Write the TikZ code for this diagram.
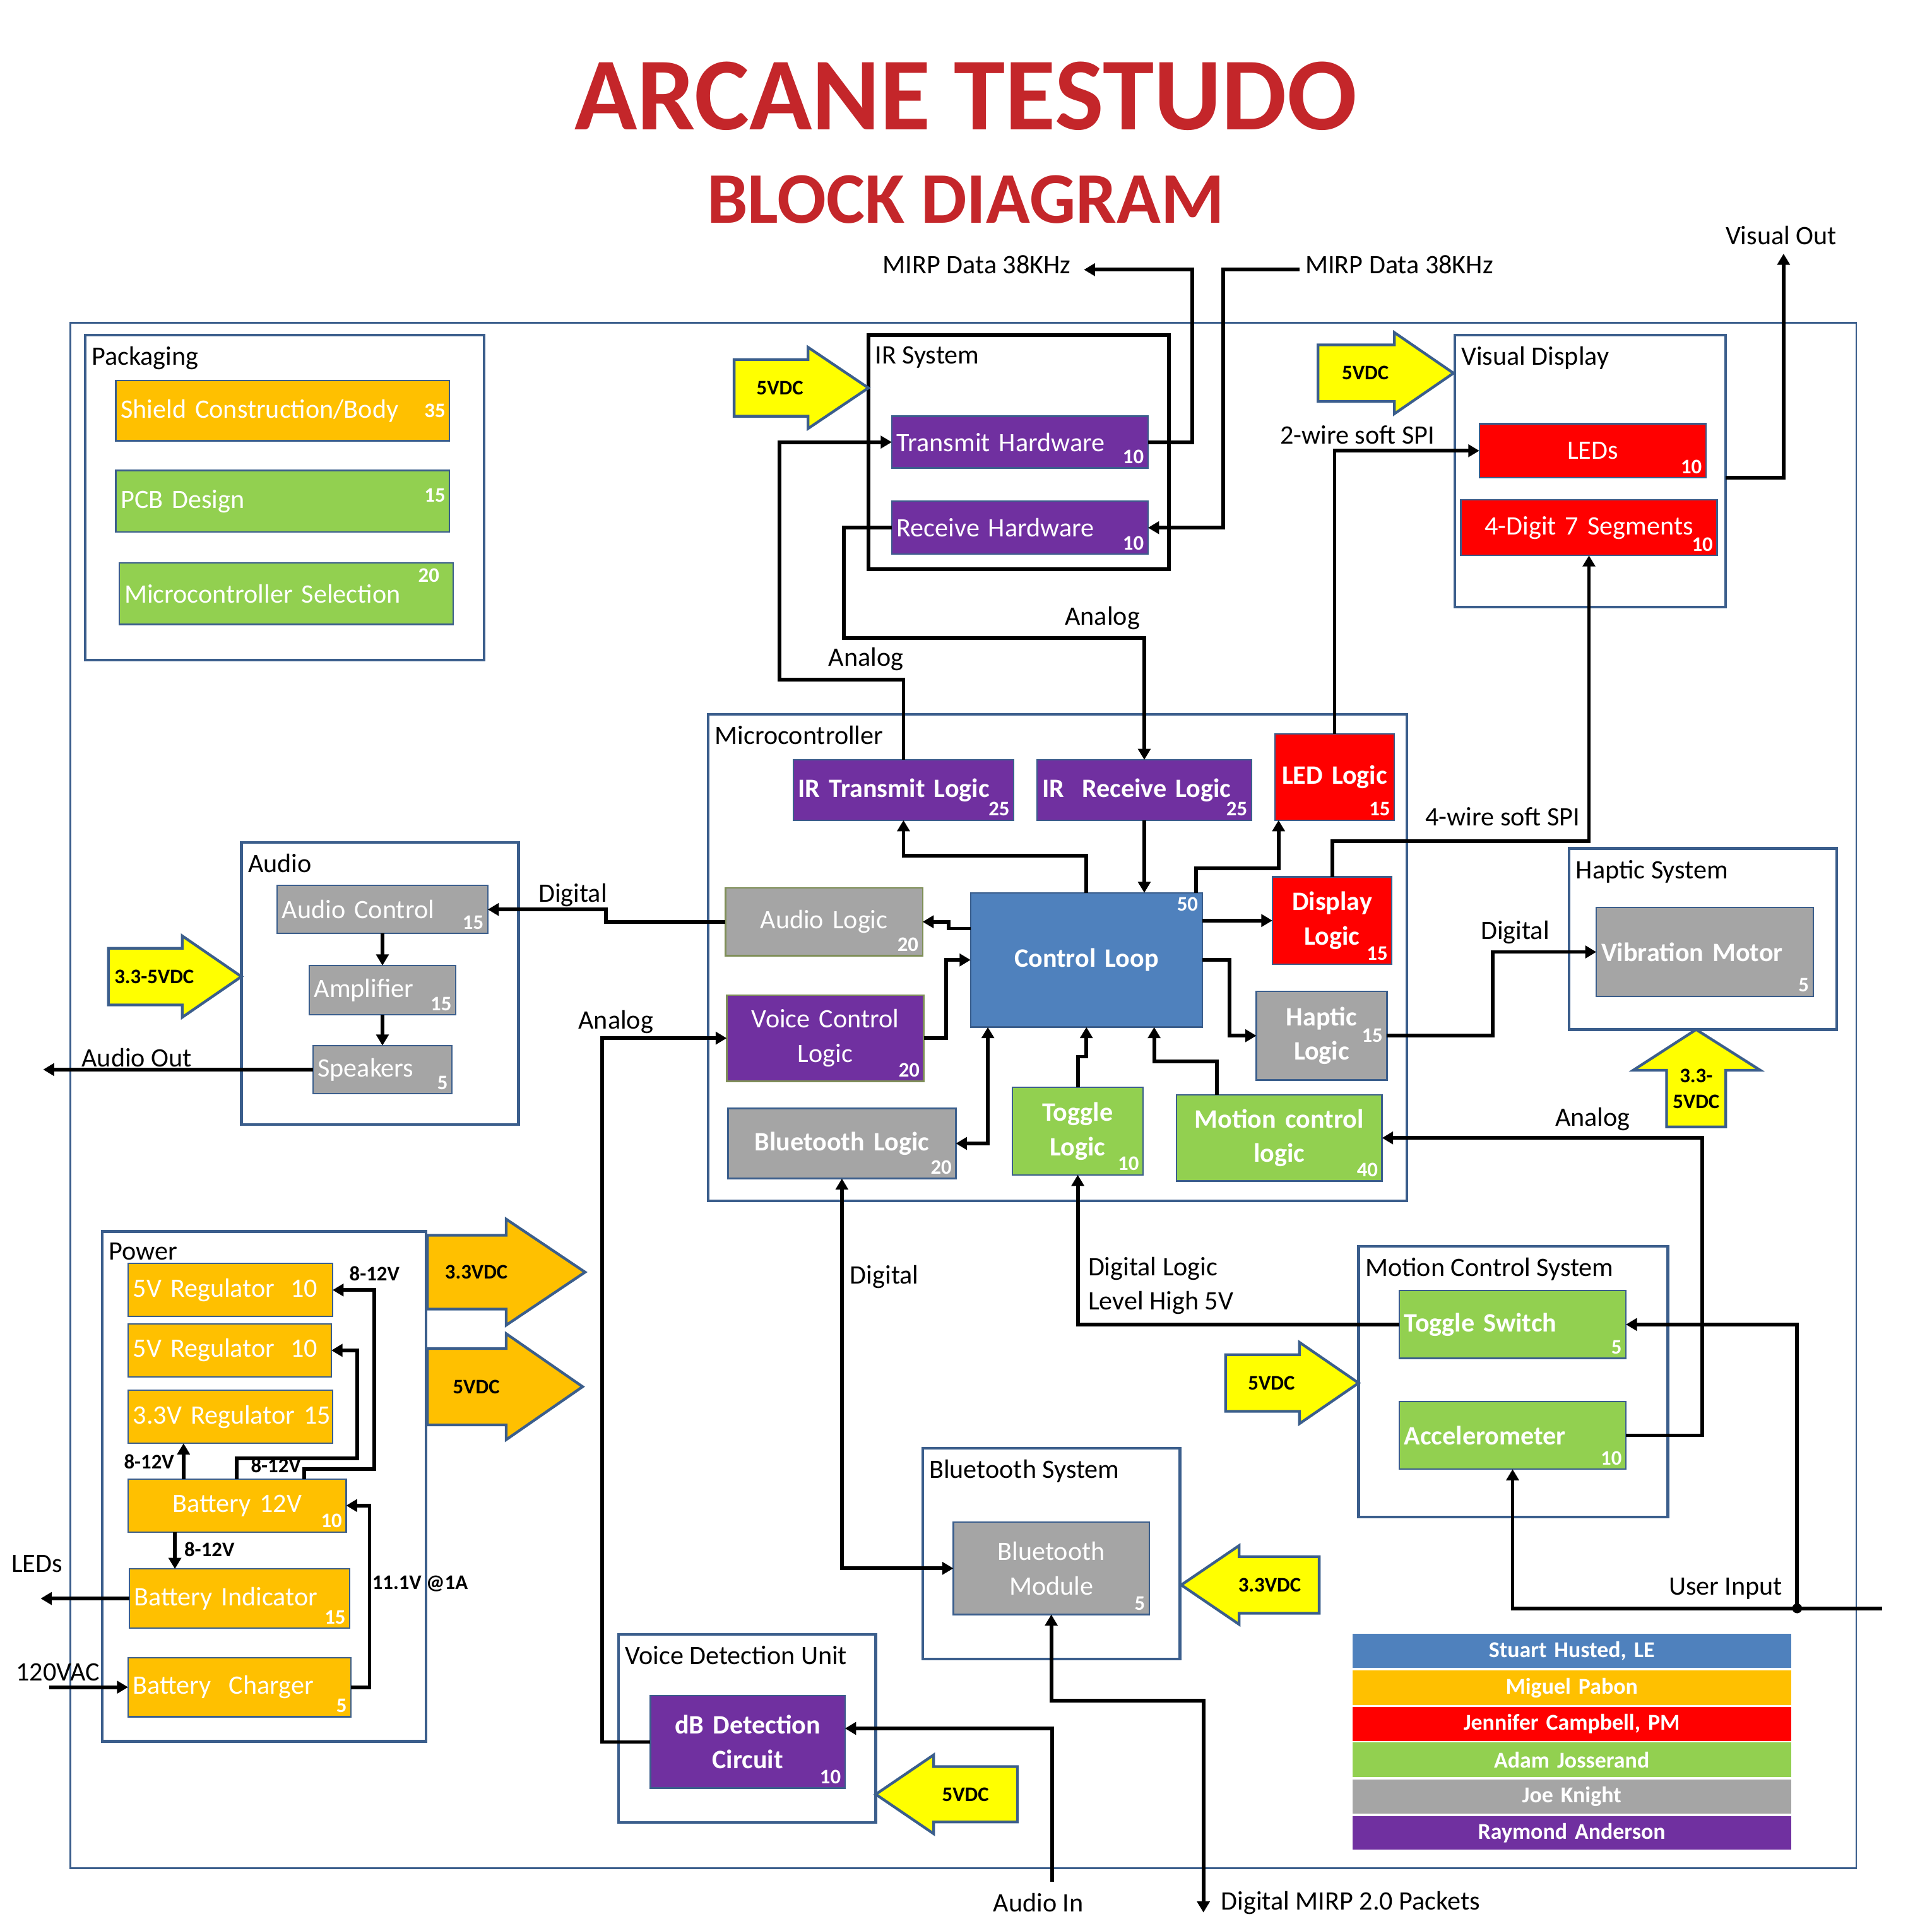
\documentclass[tikz,border=0pt]{standalone}
\usepackage{fontspec}
\setmainfont{Carlito}
\usetikzlibrary{arrows.meta}

\definecolor{frameblue}{HTML}{3B5E8C}
\definecolor{ppurple}{HTML}{7030A0}
\definecolor{pgreen}{HTML}{92D050}
\definecolor{porange}{HTML}{FFC000}
\definecolor{pred}{HTML}{FF0000}
\definecolor{pgray}{HTML}{A5A5A5}
\definecolor{pblue}{HTML}{4F81BD}
\definecolor{pyellow}{HTML}{FFFF00}
\definecolor{titlered}{HTML}{C4262A}
\definecolor{olivebd}{HTML}{7F8F58}

\newcommand\fsz[2]{\fontsize{#1}{#2}\selectfont}

% block: name, x1, y1, x2, y2, options, text
\newcommand\mkblk[7]{%
  \pgfmathsetmacro\blkW{(#4-#2)*0.5}%
  \pgfmathsetmacro\blkH{(#5-#3)*0.5}%
  \pgfmathsetmacro\blkT{(#4-#2)*0.5-4}%
  \pgfmathsetmacro\blkX{(#2+#4)/2}%
  \pgfmathsetmacro\blkY{(#3+#5)/2}%
  \node[blk,#6,minimum width=\blkW pt,minimum height=\blkH pt,text width=\blkT pt] (#1) at (\blkX,\blkY) {#7};}

% subsystem frame: name, x1, y1, x2, y2, options, title
\newcommand\mkgrp[7]{%
  \pgfmathsetmacro\blkW{(#4-#2)*0.5}%
  \pgfmathsetmacro\blkH{(#5-#3)*0.5}%
  \pgfmathsetmacro\blkX{(#2+#4)/2}%
  \pgfmathsetmacro\blkY{(#3+#5)/2}%
  \node[grpbox,#6,minimum width=\blkW pt,minimum height=\blkH pt,label={[grptitle]north west:#7}] (#1) at (\blkX,\blkY) {};}

% supply arrow: name, tail x, head base x, tip x, centre y, half shaft, half head, style, text
\newcommand\mkarrow[9]{%
  \filldraw[#8] (#2,#5-#6) -- (#3,#5-#6) -- (#3,#5-#7) -- (#4,#5) -- (#3,#5+#7) -- (#3,#5+#6) -- (#2,#5+#6) -- cycle;
  \node[pwrtext] (#1) at ({(#2+#3)/2+0.12*(#3-#2)},#5) {#9};}

\begin{document}
\begin{tikzpicture}[x=0.5pt,y=-0.5pt,
  >={Triangle[length=4.5pt,width=5pt]},
  every node/.style={font=\fsz{10.8}{14}},
  grpbox/.style={rectangle,draw=frameblue,line width=1.1pt,inner sep=0pt,outer sep=0pt},
  grptitle/.style={anchor=north west,inner xsep=2.5pt,inner ysep=4.5pt,font=\fsz{10.8}{14},text=black},
  blk/.style={rectangle,draw=frameblue,line width=0.6pt,inner xsep=2pt,inner ysep=0pt,outer sep=0pt,text=white,align=center,font=\fsz{10.8}{14}},
  lft/.style={align=left},
  bfx/.style={font=\fsz{10.8}{14}\bfseries},
  lgd/.style={draw=none,font=\fsz{9.2}{11}\bfseries},
  num/.style={font=\fsz{8.4}{10}\bfseries,text=white,inner sep=1.5pt},
  nb/.style={label={[num,anchor=south east]south east:#1}},
  nt/.style={label={[num,anchor=north east]north east:#1}},
  nr/.style={label={[num,anchor=east]east:#1}},
  wire/.style={line width=1.5pt,->},
  wire2/.style={line width=1.5pt,<->},
  lbl/.style={font=\fsz{10.8}{14},text=black,inner sep=0pt},
  pwrtext/.style={font=\fsz{8.4}{10.5}\bfseries,text=black,inner sep=0pt,align=center},
  yarrow/.style={fill=pyellow,draw=frameblue,line width=1.1pt},
  oarrow/.style={fill=porange,draw=frameblue,line width=1.1pt}]

\fill[white] (0,0) rectangle (1568,1568);
\useasboundingbox (0,0) rectangle (1568,1568);

% ---------- title ----------
\node[font=\fsz{42}{48}\bfseries,text=titlered] (title) at (784,78) {ARCANE TESTUDO};
\node[font=\fsz{29.5}{34}\bfseries,text=titlered] (subtitle) at (784,162) {BLOCK DIAGRAM};

% ---------- outer frame and subsystems ----------
\node[grpbox,line width=0.7pt,minimum width=725pt,minimum height=627.5pt] (frame) at (782,889.5) {};

\mkgrp{pack}{69}{272}{393}{536}{}{Packaging}
\mkgrp{irsys}{705}{272}{949}{462}{draw=black,line width=1.5pt}{IR System}
\mkgrp{vis}{1181}{272}{1401}{493}{}{Visual Display}
\mkgrp{mcu}{575}{580}{1142}{975}{}{Microcontroller}
\mkgrp{audio}{196}{684}{421}{913}{}{Audio}
\mkgrp{hap}{1274}{689}{1491}{836}{}{Haptic System}
\mkgrp{mot}{1103}{1012}{1354}{1232}{}{Motion Control System}
\mkgrp{bts}{749}{1176}{958}{1347}{}{Bluetooth System}
\mkgrp{vdu}{502}{1327}{711}{1480}{}{Voice Detection Unit}
\mkgrp{pwr}{83}{1000}{346}{1414}{}{Power}

% ---------- supply arrows ----------
\mkarrow{pIR}{596}{656}{705}{315}{23}{33}{yarrow}{5VDC}
\mkarrow{pVis}{1070}{1132}{1180}{303}{23}{33}{yarrow}{5VDC}
\mkarrow{pAud}{88}{148}{196}{793}{23}{33}{yarrow}{3.3-5VDC}
\mkarrow{pMot}{995}{1055}{1103}{1123}{23}{33}{yarrow}{5VDC}
\mkarrow{pBT}{1071}{1006}{959}{1287}{23}{32}{yarrow}{3.3VDC}
\mkarrow{pVDU}{826}{758}{711}{1457}{22.5}{32}{yarrow}{5VDC}
\mkarrow{p33}{347}{411}{475}{1033}{30}{43}{oarrow}{3.3VDC}
\mkarrow{p5}{347}{411}{473}{1126}{31}{43}{oarrow}{5VDC}
\filldraw[yarrow] (1353,915) -- (1353,869) -- (1326,869) -- (1377,836) -- (1429,869) -- (1401,869) -- (1401,915) -- cycle;
\node[pwrtext] (pHap) at (1377,884) {3.3-\\5VDC};

% ---------- blocks ----------
\mkblk{shield}{94}{309}{365}{358}{fill=porange,lft,nr=35}{Shield Construction/Body}
\mkblk{pcb}{94}{382}{365}{432}{fill=pgreen,lft,label={[num,anchor=east,yshift=2.5pt]east:15}}{PCB Design}
\mkblk{mcsel}{97}{457}{368}{507}{fill=pgreen,lft,label={[num,anchor=east,yshift=7.5pt,xshift=-4pt]east:20}}{Microcontroller Selection}

\mkblk{txhw}{724}{338}{932}{380}{fill=ppurple,lft,nb=10}{Transmit Hardware}
\mkblk{rxhw}{724}{407}{932}{450}{fill=ppurple,lft,nb=10}{Receive Hardware}

\mkblk{leds}{1201}{344}{1385}{388}{fill=pred,nb=10}{LEDs}
\mkblk{seg}{1186}{406}{1394}{451}{fill=pred,nb=10}{4-Digit 7 Segments}

\mkblk{irtx}{644}{617}{823}{666}{fill=ppurple,bfx,lft,nb=25}{IR Transmit Logic}
\mkblk{irrx}{842}{617}{1016}{666}{fill=ppurple,bfx,lft,nb=25}{IR\ \ Receive Logic}
\mkblk{ledl}{1035}{596}{1132}{666}{fill=pred,bfx,nb=15}{\mbox{LED Logic}}
\mkblk{audl}{589}{721}{749}{776}{fill=pgray,draw=olivebd,nb=20}{Audio Logic}
\mkblk{ctrl}{788}{725}{976}{834}{fill=pblue,bfx,nt=50}{Control Loop}
\mkblk{disp}{1033}{712}{1130}{783}{fill=pred,bfx,nb=15}{Display\\Logic}
\mkblk{voice}{590}{808}{750}{878}{fill=ppurple,draw=olivebd,nb=20}{Voice Control\\Logic}
\mkblk{hapl}{1020}{805}{1126}{877}{fill=pgray,bfx,nr=15}{Haptic\\Logic}
\mkblk{btl}{591}{900}{776}{957}{fill=pgray,bfx,nb=20}{Bluetooth Logic}
\mkblk{togl}{822}{883}{928}{954}{fill=pgreen,bfx,nb=10}{Toggle\\Logic}
\mkblk{motl}{955}{889}{1122}{959}{fill=pgreen,bfx,nb=40}{Motion control\\logic}

\mkblk{actl}{225}{719}{396}{758}{fill=pgray,lft,nb=15}{Audio Control}
\mkblk{amp}{251}{784}{370}{824}{fill=pgray,lft,nb=15}{Amplifier}
\mkblk{spk}{254}{849}{367}{888}{fill=pgray,lft,nb=5}{Speakers}

\mkblk{vib}{1296}{737}{1472}{809}{fill=pgray,bfx,lft,nb=5}{Vibration Motor}
\mkblk{tsw}{1136}{1048}{1320}{1103}{fill=pgreen,bfx,lft,nb=5}{Toggle Switch}
\mkblk{acc}{1136}{1138}{1320}{1193}{fill=pgreen,bfx,lft,nb=10}{Accelerometer}

\mkblk{btm}{774}{1236}{933}{1311}{fill=pgray,nb=5}{Bluetooth\\Module}
\mkblk{dbd}{528}{1377}{686}{1452}{fill=ppurple,bfx,nb=10}{dB Detection\\Circuit}

\mkblk{reg1}{104}{1026}{270}{1069}{fill=porange,lft}{\mbox{5V Regulator\hspace{0.6em}10}}
\mkblk{reg2}{104}{1075}{269}{1118}{fill=porange,lft}{\mbox{5V Regulator\hspace{0.6em}10}}
\mkblk{reg3}{104}{1129}{270}{1172}{fill=porange,lft}{\mbox{3.3V Regulator 15}}
\mkblk{bat}{104}{1201}{281}{1244}{fill=porange,nb=10}{Battery 12V}
\mkblk{bind}{105}{1274}{284}{1322}{fill=porange,lft,nb=15}{Battery Indicator}
\mkblk{bchg}{104}{1346}{285}{1394}{fill=porange,lft,nb=5}{Battery\ \ Charger}

% ---------- team legend ----------
\mkblk{lg1}{1098}{1326.5}{1454}{1354.5}{fill=pblue,lgd}{Stuart Husted, LE}
\mkblk{lg2}{1098}{1356.5}{1454}{1384.5}{fill=porange,lgd}{Miguel Pabon}
\mkblk{lg3}{1098}{1386}{1454}{1413.5}{fill=pred,lgd}{Jennifer Campbell, PM}
\mkblk{lg4}{1098}{1415}{1454}{1443}{fill=pgreen,lgd}{Adam Josserand}
\mkblk{lg5}{1098}{1445}{1454}{1472.5}{fill=pgray,lgd}{Joe Knight}
\mkblk{lg6}{1098}{1474.5}{1454}{1502}{fill=ppurple,lgd}{Raymond Anderson}

% ---------- free ends ----------
\coordinate (mirpL) at (880,219);
\coordinate (mirpR) at (1055,219);
\coordinate (vout) at (1448,206);
\coordinate (aout) at (35,870);
\coordinate (ledout) at (33,1298);
\coordinate (acin) at (40,1370);
\coordinate (uin) at (1528,1306);
\coordinate (ujn) at (1459,1306);
\coordinate (ain) at (854,1528);
\coordinate (mirpo) at (977,1553);

% ---------- connectors: IR ----------
\draw[wire] (txhw.east) -- ++(36,0) |- (mirpL);
\draw[wire] (mirpR) -- ++(-62,0) |- (rxhw.east);
\draw[wire] (irtx.north) |- (633,552) |- (txhw.west);
\draw[wire] (rxhw.west) -| (685,518) -| (irrx.north);

% ---------- connectors: microcontroller ----------
\draw[wire] (ctrl.north) -- ++(0,-30) -| (irtx.south);
\draw[wire] (irrx.south) -- (irrx.south |- ctrl.north);
\draw[wire] ([xshift=-2.5pt]ctrl.north east) -- ++(0,-20) -| ([xshift=1.5pt]ledl.south west);
\draw[wire] (disp.west -| ctrl.east) -- (disp.west);
\draw[wire] ([yshift=12.75pt]ctrl.west) -- ++(-18,0) |- (audl.east);
\draw[wire] (voice.east) -- ++(18,0) |- (ctrl.west);
\draw[wire] (ctrl.east) -- ++(22,0) |- (hapl.west);
\draw[wire2] (btl.east) -| ([xshift=7pt]ctrl.south west);
\draw[wire] (togl.north) -- ++(0,-25) -| (ctrl.south);
\draw[wire] ([xshift=16.5pt]motl.north west) -- ++(0,-27) -| ([xshift=27.5pt]ctrl.south);

% ---------- connectors: peripherals ----------
\draw[wire] (ledl.north) |- (leds.west);
\draw[wire] (disp.north) -- ++(0,-29) -| (seg.south);
\draw[wire] ([yshift=-2.75pt]vis.east) -| (vout);
\draw[wire] (audl.west) -- ++(-97,0) |- (actl.east);
\draw[wire] (actl.south) -- (amp.north);
\draw[wire] (amp.south) -- (spk.north);
\draw[wire] (spk.west) -- (spk.west -| aout);
\draw[wire] (dbd.west) -- ++(-39,0) |- (voice.west);
\draw[wire2] (btl.south) |- (btm.west);
\draw[wire] (tsw.west) -| (togl.south);
\draw[wire] (acc.east) -- ++(62,0) |- (motl.east);
\draw[wire] (hapl.east) -- ++(86,0) |- (vib.west);
\draw[wire] (uin) -| (acc.south);
\draw[wire] (ujn) |- (tsw.east);
\fill (ujn) circle (2pt);
\draw[wire] (ain) |- ([yshift=5.5pt]dbd.east);
\draw[wire2] (btm.south) -- ++(0,70) -| (mirpo);

% ---------- connectors: power ----------
\coordinate (b1) at ([xshift=22.5pt]bat.north west);
\coordinate (b2) at ([xshift=44pt]bat.north west);
\coordinate (b3) at ([xshift=71.5pt]bat.north west);
\coordinate (b4) at ([xshift=19pt]bat.south west);
\draw[wire] (b1) -- (b1 |- reg3.south);
\draw[wire] (b2) -- ++(0,-17) -| ([xshift=10.5pt]reg2.east) -- (reg2.east);
\draw[wire] (b3) -- ++(0,-8) -| ([xshift=17pt]reg1.east) -- (reg1.east);
\draw[wire] (b4) -- (b4 |- bind.north);
\draw[wire] (bchg.east) -- ++(15,0) |- (bat.east);
\draw[wire] (bind.west) -- (bind.west -| ledout);
\draw[wire] (bchg.west -| acin) -- (bchg.west);

% ---------- signal labels ----------
\node[lbl] (tMirpL) at (793,215) {MIRP Data 38KHz};
\node[lbl] (tMirpR) at (1136,215) {MIRP Data 38KHz};
\node[lbl] (tVout) at (1446,191) {Visual Out};
\node[lbl] (t2spi) at (1102,353) {2-wire soft SPI};
\node[lbl] (t4spi) at (1220,663) {4-wire soft SPI};
\node[lbl] (tAn1) at (703,535) {Analog};
\node[lbl] (tAn2) at (895,502) {Analog};
\node[lbl] (tDig1) at (465,727) {Digital};
\node[lbl] (tAn3) at (500,830) {Analog};
\node[lbl] (tDig2) at (1230,757) {Digital};
\node[lbl] (tAn4) at (1293,909) {Analog};
\node[lbl] (tDig3) at (718,1037) {Digital};
\node[lbl,anchor=west,align=left] (tDL) at (883,1044) {Digital Logic\\Level High 5V};
\node[lbl] (tUin) at (1401,1290) {User Input};
\node[lbl] (tAin) at (843,1545) {Audio In};
\node[lbl,anchor=west] (tMirpo) at (991,1545) {Digital MIRP 2.0 Packets};
\node[lbl] (tAout) at (111,859) {Audio Out};
\node[lbl] (tLeds) at (30,1270) {LEDs};
\node[lbl] (t120) at (47,1358) {120VAC};
\node[pwrtext] (v1) at (121,1187) {8-12V};
\node[pwrtext] (v2) at (224,1190) {8-12V};
\node[pwrtext] (v3) at (304,1034) {8-12V};
\node[pwrtext] (v4) at (170,1258) {8-12V};
\node[pwrtext] (v5) at (341,1286) {11.1V @1A};
\end{tikzpicture}
\end{document}
